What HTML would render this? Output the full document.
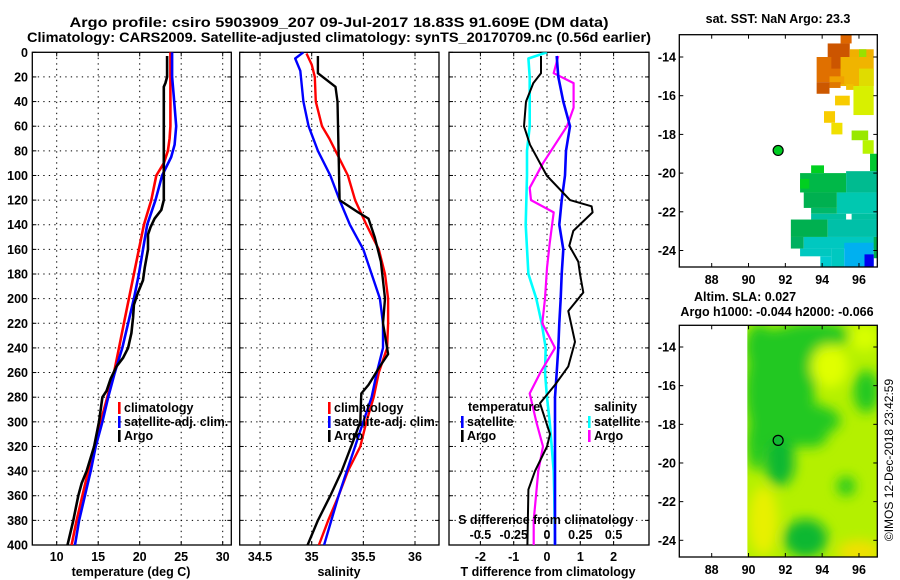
<!DOCTYPE html>
<html><head><meta charset="utf-8"><style>
html,body{margin:0;padding:0;background:#fff;}
svg{display:block;font-family:"Liberation Sans",sans-serif;font-weight:bold;}
</style></head><body>
<svg id="fig" width="900" height="580" viewBox="0 0 900 580">
<defs>
<clipPath id="c1"><rect x="32.3" y="52.3" width="199" height="492.7"/></clipPath>
<clipPath id="c2"><rect x="239.7" y="52.3" width="199.3" height="492.7"/></clipPath>
<clipPath id="c3"><rect x="449" y="52.3" width="200" height="492.7"/></clipPath>
<clipPath id="cm1"><rect x="679.3" y="34.7" width="198" height="232.3"/></clipPath>
<clipPath id="cm2"><rect x="747.3" y="325.3" width="130" height="231.7"/></clipPath>
<filter id="blur" x="-50%" y="-50%" width="200%" height="200%"><feGaussianBlur stdDeviation="6"/></filter>
</defs>
<text x="339" y="27" text-anchor="middle" font-size="14" textLength="539" lengthAdjust="spacingAndGlyphs">Argo profile: csiro 5903909_207 09-Jul-2017 18.83S 91.609E (DM data)</text>
<text x="339" y="42" text-anchor="middle" font-size="14" textLength="624" lengthAdjust="spacingAndGlyphs">Climatology: CARS2009. Satellite-adjusted climatology: synTS_20170709.nc (0.56d earlier)</text>
<g id="panels"></g>
<g id="maps"></g>
<text transform="translate(893,460) rotate(-90)" text-anchor="middle" font-size="12" font-weight="normal">©IMOS 12-Dec-2018 23:42:59</text>
</svg>
<script>
// ---- depth axis ----
const depthTicks = [0,20,40,60,80,100,120,140,160,180,200,220,240,260,280,300,320,340,360,380,400];
// ---- temperature panel data ----
const tempTicks = [10,15,20,25,30];
const climTDepth = [0,20,40,60,70,80,90,100,120,140,160,180,200,220,240,260,280,300,320,340,360,380,400];
const climT = [23.7,23.7,23.7,23.7,23.6,23.4,22.9,22.0,21.4,20.5,19.9,19.3,18.7,18.1,17.5,16.9,16.1,15.3,14.6,13.8,13.1,12.4,11.8];
const satTDepth = [0,20,35,60,75,85,100,120,140,160,180,200,220,240,260,280,300,320,340,360,380,400];
const satT = [23.9,23.9,24.1,24.4,24.2,23.8,22.7,21.9,20.9,20.4,19.9,19.3,18.6,17.9,17.0,16.2,15.5,14.7,14.1,13.4,12.7,12.2];
const argoTDepth = [3,20,25,28,120,128,135,142,148,160,175,185,195,205,215,228,240,248,255,265,275,280,300,320,340,350,360,380,400];
const argoT = [23.3,23.3,23.1,22.9,22.9,22.6,21.8,21.3,21.0,21.0,20.6,20.4,19.8,19.3,19.2,19.0,18.6,18.0,17.2,16.5,16.0,15.5,15.1,14.5,13.6,13.0,12.6,12.0,11.3];
// ---- salinity panel data ----
const salTicks = [34.5,35,35.5,36];
const salTickLabels = ["34.5","35","35.5","36"];
const climSDepth = [1,10,20,40,60,70,80,100,120,140,160,180,200,220,240,260,280,300,320,340,360,380,400];
const climS = [34.95,35.0,35.03,35.04,35.10,35.17,35.23,35.35,35.42,35.53,35.65,35.71,35.74,35.74,35.73,35.65,35.60,35.53,35.47,35.35,35.26,35.16,35.07];
const satSDepth = [0,5,15,40,60,80,100,120,140,160,180,200,220,240,260,280,300,320,340,360,380,400];
const satS = [34.92,34.84,34.89,34.92,34.97,35.06,35.18,35.27,35.37,35.50,35.58,35.66,35.69,35.69,35.63,35.58,35.50,35.42,35.34,35.26,35.19,35.12];
const argoSDepth = [3,17,28,40,120,130,135,150,170,200,220,245,255,270,277,300,316,340,360,380,400];
const argoS = [35.06,35.06,35.23,35.25,35.27,35.45,35.55,35.61,35.67,35.71,35.69,35.74,35.66,35.55,35.48,35.47,35.40,35.29,35.18,35.06,34.96];
// ---- difference panel data ----
const dTTicks = [-2,-1,0,1,2];
const dSTicks = [-0.5,-0.25,0,0.25,0.5];
const dSTickLabels = ["-0.5","-0.25","0","0.25","0.5"];
const satDTDepth = [3,20,40,60,80,100,120,140,160,180,200,220,240,260,280,400];
const satDT = [0.29,0.34,0.49,0.69,0.57,0.54,0.44,0.37,0.49,0.44,0.41,0.37,0.34,0.29,0.24,0.24];
const argoDTDepth = [3,17,25,40,60,75,100,120,125,130,145,157,170,180,195,210,235,255,270,285,310,320,340,355,400];
const argoDT = [-0.18,-0.18,-0.41,-0.63,-0.69,-0.51,-0.01,0.69,1.34,1.37,0.79,0.67,0.94,0.99,1.09,0.64,0.84,0.64,0.24,-0.21,0.09,0.0,-0.36,-0.56,-0.59];
const satDSDepth = [0,5,20,60,80,100,140,180,200,220,240,260,280,300,320,340,360,400];
const satDS = [0.0,-0.14,-0.13,-0.13,-0.15,-0.15,-0.16,-0.14,-0.08,-0.04,-0.01,-0.015,0.0,0.02,0.035,0.05,0.055,0.06];
const argoDSDepth = [3,17,25,45,60,90,110,120,130,155,175,200,220,240,260,277,300,320,340,380,400];
const argoDS = [0.085,0.05,0.2,0.2,0.15,-0.03,-0.13,-0.12,0.05,0.02,0.0,-0.015,-0.035,0.06,-0.05,-0.13,-0.08,-0.03,-0.065,-0.1,-0.1];
// ---- map data ----
const lonTicks = [88,90,92,94,96];
const latTicks = [-14,-16,-18,-20,-22,-24];
const argoLon = 91.609, argoLat = -18.83;
// SST cells: [lon0, lon1, latTop, latBottom, color]
const sstCells = [
 [95.0,95.6,-12.85,-13.3,"#dd6600"],[94.3,95.5,-13.3,-14.0,"#cc5500"],[95.5,96.8,-13.6,-14.0,"#f0b000"],
 [96.0,96.4,-13.6,-14.0,"#99e000"],[93.7,95.5,-14.0,-15.3,"#e07000"],[94.5,95.2,-14.0,-14.6,"#cc5500"],
 [95.0,96.8,-14.0,-15.5,"#f0b400"],[96.0,96.8,-14.6,-15.5,"#e0dc00"],[94.4,95.2,-15.0,-15.4,"#f0a000"],
 [93.7,94.4,-15.3,-15.9,"#cc5800"],[94.4,95.0,-15.3,-15.6,"#e07800"],[95.3,95.7,-15.4,-15.7,"#f0c000"],
 [95.7,96.8,-15.5,-17.0,"#d8f000"],[94.7,95.5,-16.0,-16.5,"#f8cc00"],[94.1,94.7,-16.8,-17.4,"#f8cc00"],
 [94.5,95.1,-17.4,-18.0,"#f0e000"],[95.6,96.5,-17.8,-18.3,"#99e800"],[96.2,96.8,-18.3,-19.0,"#b8f400"],
 [96.6,97.06,-19.0,-19.9,"#00c830"],[93.4,94.1,-19.6,-20.0,"#00d020"],[92.8,95.3,-20.0,-21.0,"#00b848"],
 [92.8,93.3,-20.3,-20.8,"#00d020"],[95.3,97.06,-19.9,-21.0,"#00bb90"],[93.0,94.8,-21.0,-21.8,"#00b050"],
 [94.8,97.06,-21.0,-22.1,"#00c8b0"],[93.4,94.8,-21.8,-22.1,"#00b868"],[93.4,95.3,-22.1,-22.4,"#00c0a0"],
 [95.6,97.06,-22.1,-22.4,"#00c0a0"],[92.3,94.3,-22.4,-23.3,"#00b050"],[94.3,97.06,-22.4,-23.3,"#00c0a8"],
 [92.3,93.0,-23.3,-23.9,"#00b060"],[93.0,97.06,-23.3,-23.9,"#00c8c0"],[92.8,94.5,-23.9,-24.3,"#00c8c0"],
 [94.5,95.2,-23.9,-24.9,"#00c8c0"],[93.9,94.5,-24.3,-24.9,"#00ccd0"],[95.2,96.8,-23.6,-24.9,"#00b0f0"],
 [96.8,97.06,-23.3,-24.4,"#00b050"],[96.3,96.8,-24.2,-24.9,"#0000ee"]
];
// SLA blobs: [lon, lat, rxDeg, ryDeg, color]
const slaBlobs = [
 [91.7,-16.3,1.9,3.3,"#22c822"],[93.5,-13.4,2.0,0.7,"#22c822"],[92.8,-17.8,2.2,0.9,"#22c822"],
 [92.6,-15.0,1.3,1.8,"#22c822"],[90.6,-14.0,0.8,1.2,"#22c822"],[93.3,-18.6,1.0,0.6,"#22c822"],
 [91.7,-20.0,0.8,1.2,"#11b833"],[90.4,-19.0,0.5,1.4,"#22c822"],[96.4,-16.3,0.7,1.1,"#22c822"],
 [93.1,-23.9,1.2,1.0,"#11b833"],[95.3,-21.2,0.5,0.5,"#22c822"],
 [94.4,-15.0,1.0,1.1,"#e0ff00"],[90.8,-23.0,0.8,1.8,"#e8f000"],[96.0,-24.6,1.2,0.6,"#f0e000"],[96.3,-13.5,0.8,0.7,"#d8ff00"]
];

const NS = "http://www.w3.org/2000/svg";
const panelsG = document.getElementById('panels');
const mapsG = document.getElementById('maps');
function mk(tag, attrs, parent){ const e=document.createElementNS(NS,tag); for(const k in attrs) e.setAttribute(k,attrs[k]); (parent||panelsG).appendChild(e); return e; }
const yTop=52.3, yBot=545;
function yD(d){ return yTop + d*(yBot-yTop)/400; }
const xT = t => 56.7 + (t-10)*8.3;
const xS = s => 311.7 + (s-35)*103.3;
const xDT = d => 547 + d*33.3;
const xDS = d => 547 + d*133.2;

function frame(x0,x1,name){
  const r=mk('rect',{x:x0,y:yTop,width:x1-x0,height:yBot-yTop,fill:'none',stroke:'#000','stroke-width':1.3});
  
  
  depthTicks.forEach(d=>{
    if(d>0 && d<400){
      const g=mk('line',{x1:x0,x2:x1,y1:yD(d),y2:yD(d),stroke:'#000','stroke-width':1,'stroke-dasharray':'1.3,4.2'});
      
      
    }
    mk('line',{x1:x0,x2:x0+4,y1:yD(d),y2:yD(d),stroke:'#000'});
    mk('line',{x1:x1,x2:x1-4,y1:yD(d),y2:yD(d),stroke:'#000'});
  });
}
function vgrid(xs,fn,x0,x1){
  xs.forEach(v=>{ const x=fn(v); if(x>x0+1&&x<x1-1){
    const g=mk('line',{x1:x,x2:x,y1:yTop,y2:yBot,stroke:'#000','stroke-width':1,'stroke-dasharray':'1.3,4.2'});
    
    
    mk('line',{x1:x,x2:x,y1:yBot,y2:yBot-4,stroke:'#000'});
    mk('line',{x1:x,x2:x,y1:yTop,y2:yTop+4,stroke:'#000'});
  }});
}
function series(vals,depths,fn,color,w,clip,name){
  let d=''; vals.forEach((v,i)=>{ d+=(i?'L':'M')+fn(v).toFixed(1)+','+yD(depths[i]).toFixed(1); });
  const p=mk('path',{d:d,fill:'none',stroke:color,'stroke-width':w,'stroke-linejoin':'round','clip-path':'url(#'+clip+')'});
  
  
}
function txt(s,x,y,anchor,size,name,color){
  const t=mk('text',{x:x,y:y,'text-anchor':anchor,'font-size':size,fill:color||'#000'}); t.textContent=s;
  
  
  return t;
}
function legendEntry(x,y,color,label,name){
  mk('rect',{x:x,y:y-10,width:2.6,height:12,fill:color});
  txt(label,x+6,y,'start',12.5,name);
}

// panel 1
frame(32.3,231.3,'temperature-panel');
vgrid(tempTicks,xT,32.3,231.3);
depthTicks.forEach(d=>txt(String(d),28,yD(d)+4.5,'end',12.5,'depth-tick-label'));
tempTicks.forEach(t=>txt(String(t),xT(t),561,'middle',12.5,'temperature-tick-label'));
txt('temperature (deg C)',131,576,'middle',12.5,'temperature-axis-title');
series(climT,climTDepth,xT,'#ff0000',2.6,'c1','climatology-temperature-line');
series(satT,satTDepth,xT,'#0000ff',2.6,'c1','satellite-temperature-line');
series(argoT,argoTDepth,xT,'#000000',2.6,'c1','argo-temperature-line');
legendEntry(118,412,'#ff0000','climatology','legend-climatology');
legendEntry(118,426,'#0000ff','satellite-adj. clim.','legend-satellite-adj');
legendEntry(118,440,'#000000','Argo','legend-argo');

// panel 2
frame(239.7,439,'salinity-panel');
vgrid(salTicks,xS,239.7,439);
salTicks.forEach((s,i)=>txt(salTickLabels[i],xS(s),561,'middle',12.5,'salinity-tick-label'));
txt('salinity',339,576,'middle',12.5,'salinity-axis-title');
series(climS,climSDepth,xS,'#ff0000',2.4,'c2','climatology-salinity-line');
series(satS,satSDepth,xS,'#0000ff',2.4,'c2','satellite-salinity-line');
series(argoS,argoSDepth,xS,'#000000',2.4,'c2','argo-salinity-line');
legendEntry(328,412,'#ff0000','climatology','legend-climatology-2');
legendEntry(328,426,'#0000ff','satellite-adj. clim.','legend-satellite-adj-2');
legendEntry(328,440,'#000000','Argo','legend-argo-2');

// panel 3
frame(449,649,'difference-panel');
vgrid(dTTicks,xDT,449,649);
dTTicks.forEach(t=>txt(String(t),xDT(t),561,'middle',12.5,'t-difference-tick-label'));
txt('T difference from climatology',548,576,'middle',12.5,'t-difference-axis-title');
series(satDS,satDSDepth,xDS,'#00ffff',2.6,'c3','satellite-salinity-difference-line');
series(argoDS,argoDSDepth,xDS,'#ff00ff',2.2,'c3','argo-salinity-difference-line');
series(satDT,satDTDepth,xDT,'#0000ff',2.6,'c3','satellite-temperature-difference-line');
series(argoDT,argoDTDepth,xDT,'#000000',2.0,'c3','argo-temperature-difference-line');
txt('temperature',468,411,'start',12.5,'legend-temperature-heading');
legendEntry(461,426,'#0000ff','satellite','legend-t-satellite');
legendEntry(461,440,'#000000','Argo','legend-t-argo');
txt('salinity',594,411,'start',12.5,'legend-salinity-heading');
legendEntry(588,426,'#00ffff','satellite','legend-s-satellite');
legendEntry(588,440,'#ff00ff','Argo','legend-s-argo');
txt('S difference from climatology',546,524,'middle',12.5,'s-difference-axis-title');
dSTicks.forEach((s,i)=>txt(dSTickLabels[i],xDS(s),539,'middle',12.5,'s-difference-tick-label'));

// maps
const xLon = lon => 711.7 + (lon-88)*18.41;
function mapFrame(top,bot,yLat,name){
  const r=mk('rect',{x:679.3,y:top,width:198,height:bot-top,fill:'none',stroke:'#000','stroke-width':1.3},mapsG);
  
  
  latTicks.forEach(l=>{ const y=yLat(l);
    mk('line',{x1:679.3,x2:683.3,y1:y,y2:y,stroke:'#000'},mapsG);
    mk('line',{x1:877.3,x2:873.3,y1:y,y2:y,stroke:'#000'},mapsG);
    const t=mk('text',{x:676,y:y+4.5,'text-anchor':'end','font-size':12.5},mapsG); t.textContent=String(l);
    
    
  });
  lonTicks.forEach(l=>{ const x=xLon(l);
    mk('line',{x1:x,x2:x,y1:bot,y2:bot-4,stroke:'#000'},mapsG);
    mk('line',{x1:x,x2:x,y1:top,y2:top+4,stroke:'#000'},mapsG);
    const t=mk('text',{x:x,y:bot+17,'text-anchor':'middle','font-size':12.5},mapsG); t.textContent=String(l);
    
    
  });
}
// SST map
const yLat1 = lat => 57 + (-14-lat)*19.35;
const sstG = mk('g',{'clip-path':'url(#cm1)'},mapsG);


sstCells.forEach(c=>{
  const x0=xLon(c[0]), x1=xLon(c[1]), y0=yLat1(c[2]), y1=yLat1(c[3]);
  const r=mk('rect',{x:x0,y:y0,width:x1-x0,height:y1-y0,fill:c[4]},sstG);
  
  
});
const dot1=mk('circle',{cx:xLon(argoLon),cy:yLat1(argoLat),r:5,fill:'#00cc22',stroke:'#000','stroke-width':1.2},mapsG);


mapFrame(34.7,267,yLat1,'sst-map');
const t1=mk('text',{x:778,y:23,'text-anchor':'middle','font-size':12.5},mapsG); t1.textContent='sat. SST: NaN Argo: 23.3';



// SLA map
const yLat2 = lat => 347 + (-14-lat)*19.33;
const slaG = mk('g',{'clip-path':'url(#cm2)'},mapsG);


mk('rect',{x:747.3,y:325.3,width:130,height:231.7,fill:'#b4f000'},slaG);
const blobG = mk('g',{filter:'url(#blur)'},slaG);
slaBlobs.forEach(b=>{
  const e=mk('ellipse',{cx:xLon(b[0]),cy:yLat2(b[1]),rx:b[2]*18.41,ry:b[3]*19.33,fill:b[4]},blobG);
  
  
});
const dot2=mk('circle',{cx:xLon(argoLon),cy:yLat2(argoLat),r:5,fill:'#11b833',stroke:'#000','stroke-width':1.2},mapsG);


mapFrame(325.3,557,yLat2,'sla-map');
const t2=mk('text',{x:745,y:301,'text-anchor':'middle','font-size':12.5},mapsG); t2.textContent='Altim. SLA: 0.027';


const t3=mk('text',{x:777,y:316,'text-anchor':'middle','font-size':12.5},mapsG); t3.textContent='Argo h1000: -0.044 h2000: -0.066';


</script>
</body></html>
